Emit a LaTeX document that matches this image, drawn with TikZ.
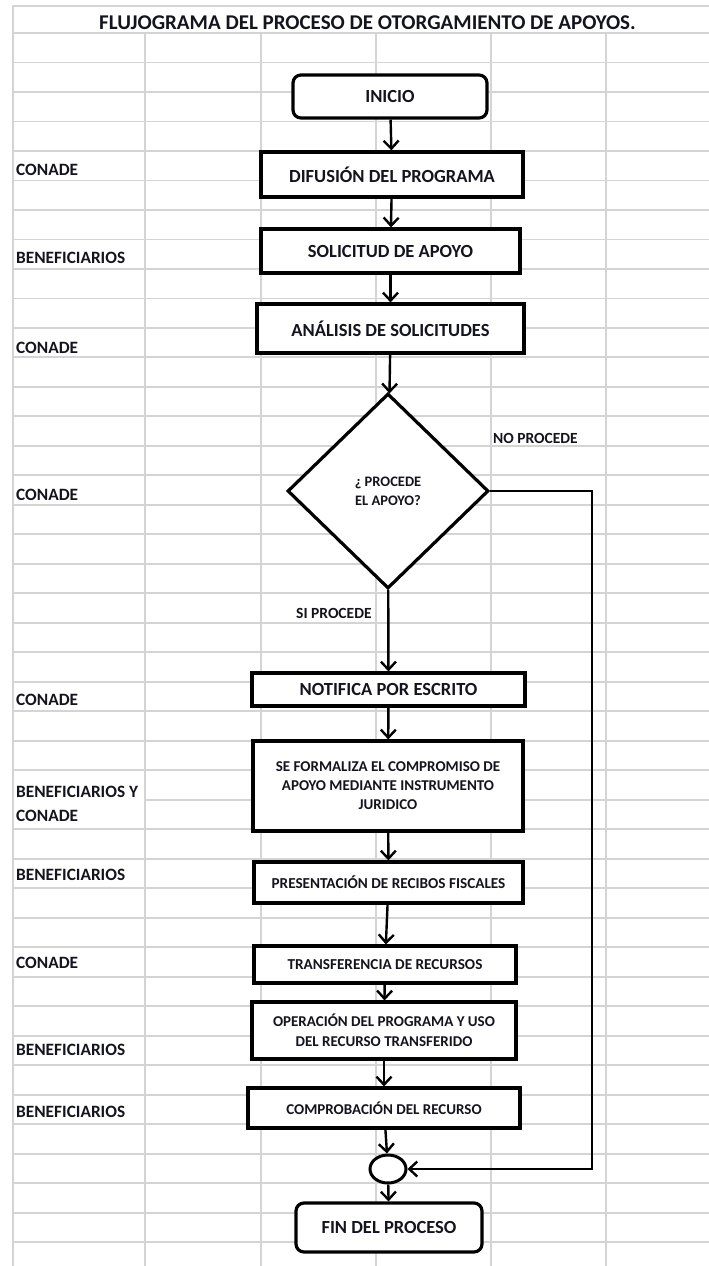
\documentclass[tikz,border=0pt]{standalone}
\usepackage{fontspec}
\setmainfont{Carlito}
\usepackage{tikz}
\usetikzlibrary{positioning, shapes.geometric, arrows.meta}
\definecolor{gris}{RGB}{212,212,212}
\definecolor{tinta}{RGB}{20,20,30}
\newcommand{\fuente}[1]{\fontsize{#1}{#1}\selectfont\bfseries}

\begin{document}
\begin{tikzpicture}[x=1pt, y=-1pt,
    every node/.style={inner sep=0pt, text=tinta, font=\fuente{18.5}},
    rejilla/.style={draw=gris, line width=1.8pt},
    proceso/.style={draw, fill=white, line width=3.2pt, align=center},
    terminal/.style={proceso, rounded corners=8pt},
    rombo/.style={draw, fill=white, line width=3.2pt, diamond, align=center},
    union/.style={draw, fill=white, line width=3pt, ellipse},
    flecha/.style={-{Straight Barb[length=8pt, width=15pt]}, line width=2.4pt},
    rol/.style={anchor=base west, font=\fuente{17.3}},
    nota/.style={anchor=base west, font=\fuente{15.5}}]

    \useasboundingbox (0,0) rectangle (709,1266);

    % 1. 表格背景
    \draw[rejilla] (12,6) -- (709,6);
    \foreach \k in {0,...,25} {\draw[rejilla] (12,{33+29.49*\k}) -- (709,{33+29.49*\k});}
    \draw[rejilla] (145,{33+29.49*26}) -- (709,{33+29.49*26}); % 合并单元格
    \foreach \k in {27,...,41} {\draw[rejilla] (12,{33+29.49*\k}) -- (709,{33+29.49*\k});}
    \draw[rejilla] (13,6) -- (13,1266);
    \foreach \c in {145,261,376,491,606} {\draw[rejilla] (\c,33) -- (\c,1266);}

    % 标题
    \node[anchor=base, font=\fuente{21}] (titulo) at (367.5, 29) {FLUJOGRAMA DEL PROCESO DE OTORGAMIENTO DE APOYOS.};

    % 2. 左侧责任单位
    \node[rol] (r1) at (16, 175.5) {CONADE};
    \node[rol] (r2) at (16, 263.5) {BENEFICIARIOS};
    \node[rol] (r3) at (16, 353) {CONADE};
    \node[rol] (r4) at (16, 500) {CONADE};
    \node[rol] (r5) at (16, 705) {CONADE};
    \node[rol] (r6) at (16, 797) {BENEFICIARIOS Y};
    \node[rol] (r7) at (16, 821) {CONADE};
    \node[rol] (r8) at (16, 880) {BENEFICIARIOS};
    \node[rol] (r9) at (16, 968) {CONADE};
    \node[rol] (r10) at (16, 1055) {BENEFICIARIOS};
    \node[rol] (r11) at (16, 1117) {BENEFICIARIOS};

    % 3. 流程框
    \node[terminal, minimum width=194pt, minimum height=43pt] (inicio) at (390, 96.5) {INICIO};
    \node[proceso, minimum width=262pt, minimum height=45pt] (difusion) at (392, 174.5) {DIFUSIÓN DEL PROGRAMA};
    \node[proceso, minimum width=259pt, minimum height=44pt] (solicitud) at (390.5, 251) {SOLICITUD DE APOYO};
    \node[proceso, minimum width=267pt, minimum height=49pt] (analisis) at (390.5, 328.5) {ANÁLISIS DE SOLICITUDES};
    \node[rombo, minimum width=201pt, minimum height=195pt, font=\fontsize{14.5}{19}\selectfont\bfseries] (decision) at (388, 491) {¿ PROCEDE\\EL APOYO?};
    \node[proceso, minimum width=273pt, minimum height=33pt] (notifica) at (388.5, 689.5) {NOTIFICA POR ESCRITO};
    \node[proceso, minimum width=270pt, minimum height=90pt, font=\fontsize{15}{19}\selectfont\bfseries] (formaliza) at (388, 786) {SE FORMALIZA EL COMPROMISO DE\\APOYO MEDIANTE INSTRUMENTO\\JURIDICO};
    \node[proceso, minimum width=269pt, minimum height=41pt, font=\fuente{15.2}] (presentacion) at (388.5, 882.5) {PRESENTACIÓN DE RECIBOS FISCALES};
    \node[proceso, minimum width=262pt, minimum height=37pt, font=\fuente{15.2}] (transferencia) at (385, 964.5) {TRANSFERENCIA DE RECURSOS};
    \node[proceso, minimum width=264pt, minimum height=57pt, font=\fontsize{15}{20}\selectfont\bfseries] (operacion) at (384, 1030.5) {OPERACIÓN DEL PROGRAMA Y USO\\DEL RECURSO TRANSFERIDO};
    \node[proceso, minimum width=272pt, minimum height=40pt, font=\fuente{15}] (comprobacion) at (384, 1108) {COMPROBACIÓN DEL RECURSO};
    \node[union, minimum width=36pt, minimum height=28pt] (union) at (388, 1169) {};
    \node[terminal, minimum width=186pt, minimum height=49pt] (fin) at (389, 1227.5) {FIN DEL PROCESO};

    % 分支标注
    \node[nota] (noprocede) at (493, 443.5) {NO PROCEDE};
    \node[nota] (siprocede) at (296, 618.5) {SI PROCEDE};

    % 4. 连接线
    \draw[flecha] (inicio) -- (difusion);
    \draw[flecha] (difusion) -- (solicitud);
    \draw[flecha] (solicitud) -- (analisis);
    \draw[flecha] (analisis) -- (decision);
    \draw[flecha] (decision) -- (notifica);
    \draw[flecha] (notifica) -- (formaliza);
    \draw[flecha] (formaliza) -- (presentacion);
    \draw[flecha] (presentacion) -- (transferencia);
    \draw[flecha] (transferencia) -- (operacion);
    \draw[flecha] (operacion) -- (comprobacion);
    \draw[flecha] (comprobacion) -- (union);
    \draw[flecha] (union) -- (fin);
    \coordinate (esquina) at (592, 491);
    \draw[flecha] (decision.east) -- (esquina) |- (union.east);

\end{tikzpicture}
\end{document}
